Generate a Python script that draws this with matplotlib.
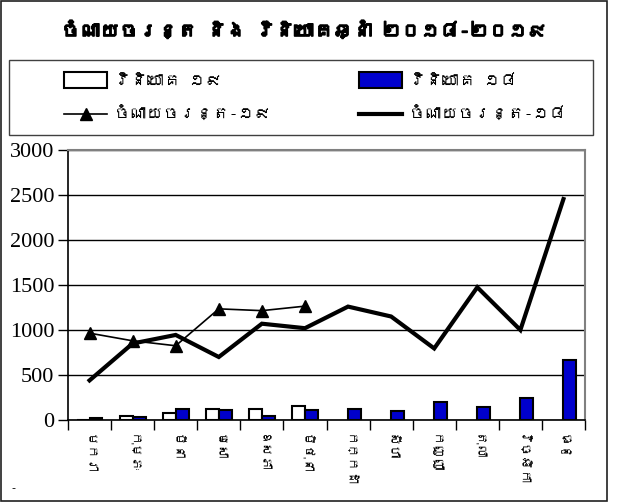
import numpy as np
import matplotlib
matplotlib.use('Agg')
import matplotlib.pyplot as plt
import matplotlib.patheffects as pe
from matplotlib import font_manager
from matplotlib.ft2font import FT2Font
from matplotlib.patches import Rectangle

months = ['មករា', 'កុម្ភៈ', 'មីនា', 'មេសា', 'ឧសភា', 'មិថុនា',
          'កក្កដា', 'សីហា', 'កញ្ញា', 'តុលា', 'វិច្ឆិកា', 'ធ្នូ']
exp18 = [440, 850, 945, 700, 1070, 1020, 1260, 1150, 795, 1475, 1000, 2455]
exp19 = [965, 880, 825, 1235, 1215, 1265]
inv18 = [25, 30, 120, 110, 45, 110, 125, 100, 200, 150, 240, 665]
inv19 = [0, 45, 80, 120, 120, 155]

title = 'ចំណាយចរន្ត និង វិនិយោគឆ្នាំ ២០១៨-២០១៩'
lab_inv19 = 'វិនិយោគ ១៩'
lab_inv18 = 'វិនិយោគ ១៨'
lab_exp19 = 'ចំណាយចរន្ត-១៩'
lab_exp18 = 'ចំណាយចរន្ត-១៨'


# look for any installed font that has khmer glyphs
def find_khmer():
    for f in font_manager.fontManager.ttflist:
        try:
            cm = FT2Font(f.fname).get_charmap()
        except Exception:
            continue
        if 0x1780 in cm:
            return f.name
    return None

kh = find_khmer()
kfam = [kh, 'DejaVu Sans'] if kh else ['DejaVu Sans']
plt.rcParams['font.serif'] = ['Liberation Serif', 'DejaVu Serif']

W, H = 622, 503
fig = plt.figure(figsize=(W / 100, H / 100), dpi=100)

# plot area in pixels: x 68..585, y 150..420
ax = fig.add_axes([68 / W, 1 - 420 / H, (585 - 68) / W, (420 - 150) / H])

x = np.arange(len(months))
bw = 0.3
ax.bar(np.arange(len(inv19)) - bw / 2, inv19, bw, color='white',
       edgecolor='black', linewidth=1.5, zorder=3)
ax.bar(x + bw / 2, inv18, bw, color='#0000CC',
       edgecolor='black', linewidth=1.5, zorder=3)
ax.plot(x, exp18, color='black', linewidth=3, zorder=4,
        solid_joinstyle='miter')
ax.plot(np.arange(len(exp19)), exp19, color='black', linewidth=1.2,
        marker='^', markersize=9, zorder=5)

ax.set_xlim(-0.5, 11.5)
ax.set_ylim(0, 3000)
ax.set_yticks(np.arange(0, 3001, 500))
ax.set_yticklabels([str(v) for v in range(0, 3001, 500)])
for t in ax.get_yticklabels():
    t.set_fontfamily('serif')
    t.set_fontsize(16)
ax.yaxis.grid(True, color='black', linewidth=1)
ax.set_axisbelow(True)

ax.set_xticks(x)
ax.set_xticklabels(months, rotation=270, family=kfam, fontsize=9.5,
                   va='top', ha='center')
ax.set_xticks(np.arange(-0.5, 12, 1), minor=True)
ax.tick_params(axis='x', which='major', length=0, pad=10)
ax.tick_params(axis='x', which='minor', length=7, width=1, direction='out')
ax.tick_params(axis='y', length=7, width=1, direction='out', pad=3)

for s in ['top', 'right']:
    ax.spines[s].set_color('#808080')
    ax.spines[s].set_linewidth(1.5)
for s in ['left', 'bottom']:
    ax.spines[s].set_color('black')
    ax.spines[s].set_linewidth(1.2)

# the khmer font has no bold face, a thin stroke thickens it
fig.text(305 / W, 1 - 30 / H, title, ha='center', va='center',
         family=kfam, fontsize=14, fontweight='bold',
         path_effects=[pe.withStroke(linewidth=1.2, foreground='black')])

# legend box drawn as a plain frame, the two columns placed inside
fig.patches.append(Rectangle((9 / W, 1 - 135 / H), (593 - 9) / W, 75 / H,
                             transform=fig.transFigure, fill=False,
                             edgecolor='#404040', linewidth=1))

h_inv19 = Rectangle((0, 0), 1, 1, facecolor='white', edgecolor='black', linewidth=1.5)
h_inv18 = Rectangle((0, 0), 1, 1, facecolor='#0000CC', edgecolor='black', linewidth=1.5)
h_exp19 = plt.Line2D([], [], color='black', linewidth=1.2, marker='^', markersize=9)
h_exp18 = plt.Line2D([], [], color='black', linewidth=3)

for hs, ls, x0 in [([h_inv19, h_exp19], [lab_inv19, lab_exp19], 64),
                   ([h_inv18, h_exp18], [lab_inv18, lab_exp18], 359)]:
    fig.legend(hs, ls, loc='upper left', bbox_to_anchor=(x0 / W, 1 - 72 / H),
               frameon=False, prop={'family': kfam, 'size': 12},
               handlelength=2.6, handleheight=1.1, handletextpad=0.4,
               labelspacing=1.1, borderpad=0, borderaxespad=0)

# outer chart border
fig.patches.append(Rectangle((0.5 / W, 1 - 501 / H), 606.5 / W, 500 / H,
                             transform=fig.transFigure, fill=False,
                             edgecolor='#202020', linewidth=1.2))

fig.text(13 / W, 1 - 488 / H, '-', fontsize=8, ha='center', va='center')

fig.savefig('out.png', dpi=100)
